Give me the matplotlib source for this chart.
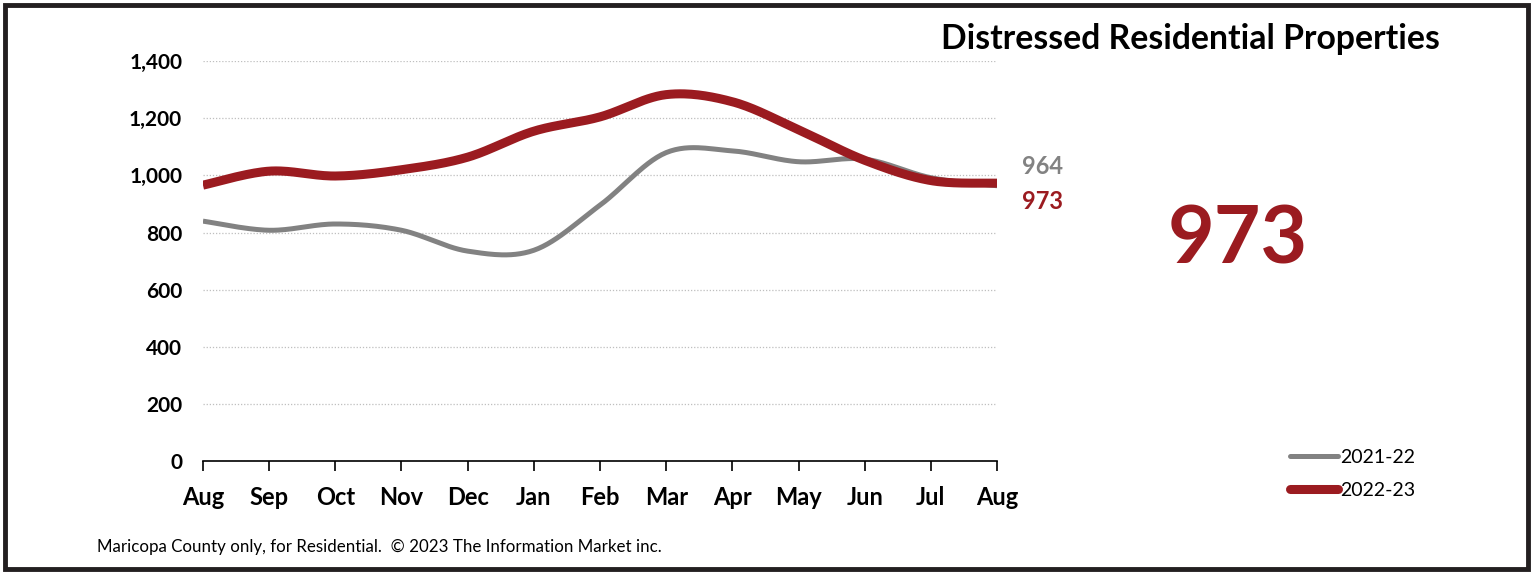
import numpy as np
import matplotlib.pyplot as plt
from matplotlib.patches import Rectangle
from matplotlib.lines import Line2D

plt.rcParams['font.family'] = ['Lato', 'DejaVu Sans']

months = ['Aug', 'Sep', 'Oct', 'Nov', 'Dec', 'Jan', 'Feb', 'Mar', 'Apr', 'May', 'Jun', 'Jul', 'Aug']
prev_year = [840, 808, 830, 808, 735, 738, 896, 1080, 1086, 1048, 1057, 992, 964]
this_year = [966, 1015, 998, 1020, 1064, 1155, 1205, 1283, 1258, 1160, 1053, 982, 973]
series_names = ['2021-22', '2022-23']
title = 'Distressed Residential Properties'
footer = 'Maricopa County only, for Residential.  \u00a9 2023 The Information Market inc.'

GRAY = '#828282'
RED = '#9B1B20'


# excel style smooth line (bezier through the points)
def smooth(x, y, n=30):
    x = np.asarray(x, float)
    y = np.asarray(y, float)
    px = np.concatenate([[x[0]], x, [x[-1]]])
    py = np.concatenate([[y[0]], y, [y[-1]]])
    xs, ys = [], []
    t = np.linspace(0, 1, n)
    for i in range(1, len(px) - 2):
        p0 = np.array([px[i], py[i]])
        p3 = np.array([px[i + 1], py[i + 1]])
        p1 = p0 + (np.array([px[i + 1], py[i + 1]]) - np.array([px[i - 1], py[i - 1]])) / 6
        p2 = p3 - (np.array([px[i + 2], py[i + 2]]) - np.array([px[i], py[i]])) / 6
        b = ((1 - t) ** 3)[:, None] * p0 + (3 * (1 - t) ** 2 * t)[:, None] * p1 \
            + (3 * (1 - t) * t ** 2)[:, None] * p2 + (t ** 3)[:, None] * p3
        xs.extend(b[:, 0])
        ys.extend(b[:, 1])
    return np.array(xs), np.array(ys)


fig = plt.figure(figsize=(15.33, 5.72), dpi=100)
ax = fig.add_axes([0.1324, 0.194, 0.518, 0.699])

xpos = np.arange(len(months))
gx, gy = smooth(xpos, prev_year)
rx, ry = smooth(xpos, this_year)
ax.plot(gx, gy, color=GRAY, lw=3.6, solid_capstyle='butt', zorder=3)
ax.plot(rx, ry, color=RED, lw=6.5, solid_capstyle='butt', zorder=4)

ax.set_xlim(0, 12)
ax.set_ylim(0, 1400)
ax.set_yticks(range(0, 1401, 200))
ax.set_yticklabels([f'{v:,}' for v in range(0, 1401, 200)], fontsize=15, fontweight='bold')
ax.set_xticks(xpos)
ax.set_xticklabels(months, fontsize=17, fontweight='bold')
ax.tick_params(axis='y', length=0, pad=15)
ax.tick_params(axis='x', direction='out', length=7, width=1.2, pad=11)
ax.grid(axis='y', color='#BFBFBF', linestyle=(0, (1, 1.5)), lw=0.9)
for s in ['left', 'right', 'top']:
    ax.spines[s].set_visible(False)
ax.spines['bottom'].set_linewidth(1.2)
ax.set_axisbelow(True)

# end labels
ax.annotate(f'{prev_year[-1]}', xy=(12, prev_year[-1]), xytext=(18, 13.5), textcoords='offset points',
            color=GRAY, fontsize=17, fontweight='bold', va='center', ha='left', annotation_clip=False)
ax.annotate(f'{this_year[-1]}', xy=(12, this_year[-1]), xytext=(18, -13.5), textcoords='offset points',
            color=RED, fontsize=17, fontweight='bold', va='center', ha='left', annotation_clip=False)

fig.text(1440 / 1533, 1 - 39 / 572, title, fontsize=24.3, fontweight='bold', ha='right', va='center')
fig.text(1238 / 1533, 1 - 240 / 572, f'{this_year[-1]}', fontsize=58, fontweight='bold',
         color=RED, ha='center', va='center')
fig.text(97 / 1533, 1 - 547 / 572, footer, fontsize=12.2, ha='left', va='center')

# legend
handles = [Line2D([], [], color=GRAY, lw=3.6, solid_capstyle='round'),
           Line2D([], [], color=RED, lw=6.5, solid_capstyle='round')]
fig.legend(handles, series_names, loc='center left', bbox_to_anchor=(1280 / 1533, 1 - 474 / 572),
           frameon=False, fontsize=14, handlelength=2.5, handletextpad=0.1, labelspacing=0.85,
           borderpad=0)

# outer frame
fig.patches.append(Rectangle((0.003, 0.006), 0.994, 0.986, transform=fig.transFigure,
                             fill=False, edgecolor='#231F20', lw=3.5))

fig.savefig('out.png', dpi=100, facecolor='white')
